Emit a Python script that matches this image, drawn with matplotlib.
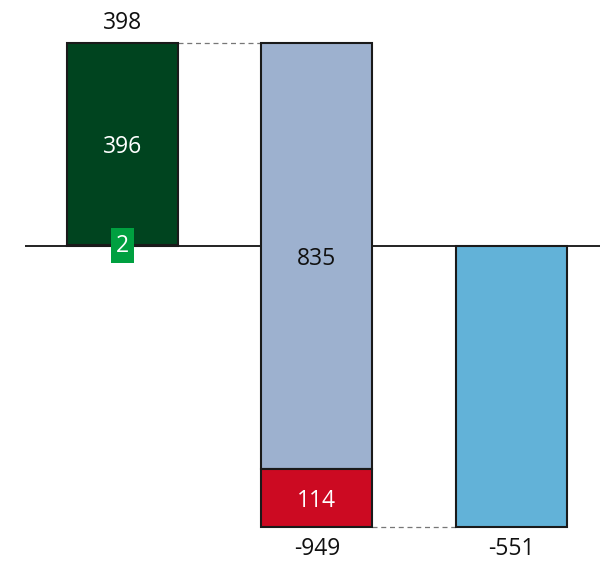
import numpy as np
import matplotlib.pyplot as plt

plt.rcParams['font.family'] = ['Open Sans', 'DejaVu Sans']

categories = ['Start', 'Change', 'End']
seg_green_dark = 396
seg_green_light = 2
seg_grey = 835
seg_red = 114
end_value = -551

total1 = seg_green_dark + seg_green_light
delta2 = -(seg_grey + seg_red)

fig = plt.figure(figsize=(6.0, 5.61), dpi=100)
ax = fig.add_axes([25 / 600, 0, 1 - 25 / 600, 1])
ax.set_xlim(-0.5, 2.455)
ax.set_ylim(-617.6, 482.4)
ax.axis('off')

w = 0.57
x = np.arange(len(categories))

# zero line
ax.axhline(0, color='#222222', lw=1.4, zorder=1)

edge = dict(edgecolor='#1a1a1a', lw=1.5, zorder=2)

# bar 1: stacked
ax.bar(x[0], seg_green_light, w, bottom=0, color='#00A040', **edge)
ax.bar(x[0], seg_green_dark, w, bottom=seg_green_light, color='#00441F', **edge)

# bar 2: falling from total1
ax.bar(x[1], -seg_grey, w, bottom=total1, color='#9DB1CF', **edge)
ax.bar(x[1], -seg_red, w, bottom=total1 - seg_grey, color='#CC0A22', **edge)

# bar 3
ax.bar(x[2], end_value, w, bottom=0, color='#62B2D8', **edge)

# connectors
ax.plot([x[0] + w / 2, x[1] - w / 2], [total1, total1], ls=(0, (4, 3)), color='#777777', lw=0.9, zorder=1)
ax.plot([x[1] + w / 2, x[2] - w / 2], [end_value, end_value], ls=(0, (4, 3)), color='#777777', lw=0.9, zorder=1)

fs = 16.5
ax.text(x[0], seg_green_light + seg_green_dark / 2, str(seg_green_dark), ha='center', va='center_baseline',
        color='white', fontsize=fs, zorder=3)
ax.text(x[0], seg_green_light / 2, str(seg_green_light), ha='center', va='center', color='white',
        fontsize=fs, zorder=3,
        bbox=dict(boxstyle='square,pad=0.22', fc='#00A040', ec='none'))
ax.text(x[0], total1 + 16, str(total1), ha='center', va='bottom', color='#111111', fontsize=fs)

ax.text(x[1], total1 - seg_grey / 2, str(seg_grey), ha='center', va='center_baseline', color='#111111',
        fontsize=fs, zorder=3)
ax.text(x[1], total1 - seg_grey - seg_red / 2, str(seg_red), ha='center', va='center_baseline', color='white',
        fontsize=fs, zorder=3)
ax.text(x[1], total1 - seg_grey - seg_red - 20, str(delta2), ha='center', va='top', color='#111111', fontsize=fs)

ax.text(x[2], end_value - 20, str(end_value), ha='center', va='top', color='#111111', fontsize=fs)

fig.savefig('out.png', dpi=100)
